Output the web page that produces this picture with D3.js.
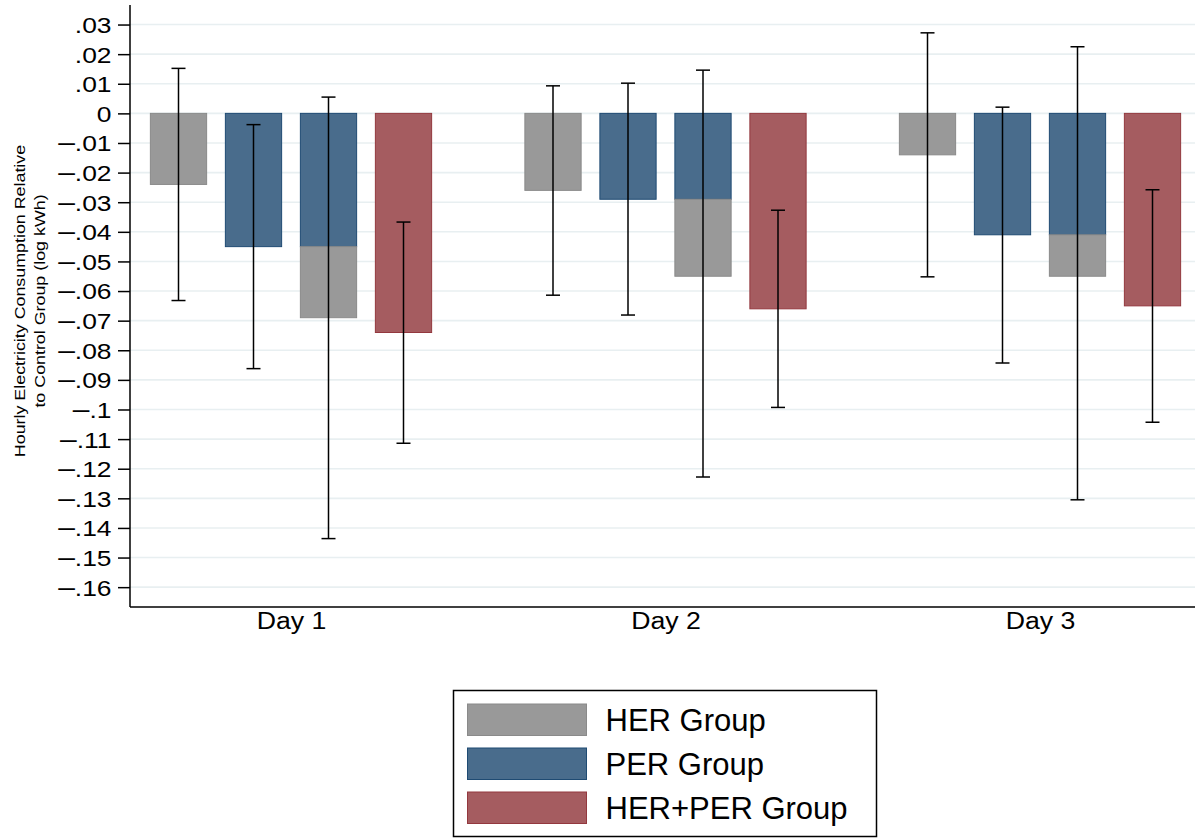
<!DOCTYPE html>
<html>
<head>
<meta charset="utf-8">
<script src="https://cdn.jsdelivr.net/npm/d3@7"></script>
<style>
  body { margin: 0; background: #fff; }
  text { font-family: "Liberation Sans", Arial, sans-serif; fill: #000; }
</style>
</head>
<body>
<div id="chart"></div>
<script>
// Data
const days = ["Day 1", "Day 2", "Day 3"];
const herEst = [-0.024, -0.026, -0.014];
const herLo  = [-0.0632, -0.0614, -0.0552];
const herHi  = [0.0152, 0.0093, 0.0272];
const perEst = [-0.045, -0.029, -0.041];
const perLo  = [-0.0862, -0.0681, -0.0843];
const perHi  = [-0.0038, 0.0102, 0.0021];
// stacked bar (PER + HER) confidence interval
const sumLo  = [-0.1436, -0.1228, -0.1305];
const sumHi  = [0.0055, 0.0146, 0.0225];
const bothEst = [-0.074, -0.066, -0.065];
const bothLo  = [-0.1114, -0.0993, -0.1043];
const bothHi  = [-0.0367, -0.0327, -0.0258];
const yTicks = d3.range(-16, 4).map(d => d / 100);
const legendLabels = ["HER Group", "PER Group", "HER+PER Group"];

const width = 1195, height = 838;
const plot = { left: 130, right: 1195, top: 5, bottom: 607 };
const stretch = 1.16; // axis text is drawn a bit wide in the original

const colors = {
  her: { fill: "#999999", stroke: "#8a8a8a" },
  per: { fill: "#496c8c", stroke: "#1f4b73" },
  both: { fill: "#a55c60", stroke: "#93383e" }
};

const svg = d3.select("#chart").append("svg")
  .attr("width", width)
  .attr("height", height);

const y = d3.scaleLinear()
  .domain([-0.1667, 0.0366])
  .range([plot.bottom, plot.top]);

const x = d3.scalePoint()
  .domain(days)
  .range([291, 1040]);

const slots = ["her", "per", "sum", "both"];
const xs = d3.scaleBand()
  .domain(slots)
  .range([-150, 150])
  .paddingInner(0.25)
  .paddingOuter(0.125);

// gridlines
svg.append("g")
  .selectAll("line")
  .data(yTicks)
  .join("line")
  .attr("x1", plot.left)
  .attr("x2", plot.right)
  .attr("y1", d => y(d))
  .attr("y2", d => y(d))
  .attr("stroke", "#e8eff1")
  .attr("stroke-width", 1.6);

// build bar segments
const segs = [];
days.forEach((day, i) => {
  segs.push({ day, slot: "her", y0: 0, y1: herEst[i], c: colors.her });
  segs.push({ day, slot: "per", y0: 0, y1: perEst[i], c: colors.per });
  segs.push({ day, slot: "sum", y0: 0, y1: perEst[i], c: colors.per });
  segs.push({ day, slot: "sum", y0: perEst[i], y1: perEst[i] + herEst[i], c: colors.her });
  segs.push({ day, slot: "both", y0: 0, y1: bothEst[i], c: colors.both });
});

svg.append("g")
  .selectAll("rect")
  .data(segs)
  .join("rect")
  .attr("x", d => x(d.day) + xs(d.slot))
  .attr("width", xs.bandwidth())
  .attr("y", d => y(Math.max(d.y0, d.y1)))
  .attr("height", d => Math.abs(y(d.y0) - y(d.y1)))
  .attr("fill", d => d.c.fill)
  .attr("stroke", d => d.c.stroke)
  .attr("stroke-width", 1);

// error bars
const errs = [];
days.forEach((day, i) => {
  errs.push({ day, slot: "her", lo: herLo[i], hi: herHi[i] });
  errs.push({ day, slot: "per", lo: perLo[i], hi: perHi[i] });
  errs.push({ day, slot: "sum", lo: sumLo[i], hi: sumHi[i] });
  errs.push({ day, slot: "both", lo: bothLo[i], hi: bothHi[i] });
});

const cap = 7;
const eg = svg.append("g")
  .selectAll("g")
  .data(errs)
  .join("g")
  .attr("transform", d => `translate(${x(d.day) + xs(d.slot) + xs.bandwidth() / 2},0)`)
  .attr("stroke", "#000")
  .attr("stroke-width", 1.5);

eg.append("line")
  .attr("y1", d => y(d.lo))
  .attr("y2", d => y(d.hi));
eg.append("line")
  .attr("x1", -cap).attr("x2", cap)
  .attr("y1", d => y(d.lo)).attr("y2", d => y(d.lo));
eg.append("line")
  .attr("x1", -cap).attr("x2", cap)
  .attr("y1", d => y(d.hi)).attr("y2", d => y(d.hi));

// y axis
const fmt = v => {
  if (Math.abs(v) < 1e-9) return "0";
  return d3.format(".2~f")(Math.abs(v)).replace(/^0/, "");
};

const yAxis = svg.append("g")
  .attr("transform", `translate(${plot.left},0)`)
  .call(d3.axisLeft(y).tickValues(yTicks).tickFormat(fmt).tickSize(12).tickPadding(7).tickSizeOuter(0));
yAxis.select(".domain").attr("d", `M0,${plot.top}V${plot.bottom}`).attr("stroke-width", 1.5);
yAxis.selectAll(".tick line").attr("stroke-width", 1.5);
yAxis.selectAll(".tick text")
  .attr("x", 0)
  .attr("dy", "0.36em")
  .attr("transform", `translate(-18.5,0) scale(1.2,1)`)
  .style("font-family", "'Liberation Sans', Arial, sans-serif")
  .style("font-size", "22px")
  .attr("fill", "#000")
  .each(function(d) {
    if (d < -1e-9) {
      const t = d3.select(this);
      const rest = t.text();
      t.text(null);
      t.append("tspan").style("font-size", "25px").text("\u2013");
      t.append("tspan").text(rest);
    }
  });

// x axis
const xAxis = svg.append("g")
  .attr("transform", `translate(0,${plot.bottom})`)
  .call(d3.axisBottom(x).tickSize(0).tickPadding(6));
xAxis.select(".domain").attr("d", `M${plot.left},0H${plot.right}`).attr("stroke-width", 1.5);
xAxis.selectAll(".tick text")
  .attr("transform", `scale(${stretch},1)`)
  .style("font-family", "'Liberation Sans', Arial, sans-serif")
  .style("font-size", "23px")
  .attr("fill", "#000");

// y axis title
const yt = svg.append("text")
  .attr("transform", `translate(0,301) rotate(-90) scale(${stretch},1)`)
  .attr("text-anchor", "middle")
  .style("font-size", "15.4px");
yt.append("tspan").attr("x", 0).attr("y", 25).text("Hourly Electricity Consumption Relative");
yt.append("tspan").attr("x", 0).attr("y", 45).text("to Control Group (log kWh)");

// legend
const legend = svg.append("g").attr("transform", "translate(453.5,690.5)");
legend.append("rect")
  .attr("width", 423)
  .attr("height", 146)
  .attr("fill", "#fff")
  .attr("stroke", "#000")
  .attr("stroke-width", 1.5);

const legendColors = [colors.her, colors.per, colors.both];
const li = legend.selectAll(".li")
  .data(legendLabels)
  .join("g")
  .attr("class", "li")
  .attr("transform", (d, i) => `translate(14,${13.5 + i * 44})`);
li.append("rect")
  .attr("width", 119)
  .attr("height", 31.5)
  .attr("fill", (d, i) => legendColors[i].fill)
  .attr("stroke", (d, i) => legendColors[i].stroke)
  .attr("stroke-width", 1);
li.append("text")
  .attr("x", 138)
  .attr("y", 16)
  .attr("dy", "0.35em")
  .style("font-size", "31px")
  .text(d => d);
</script>
</body>
</html>
